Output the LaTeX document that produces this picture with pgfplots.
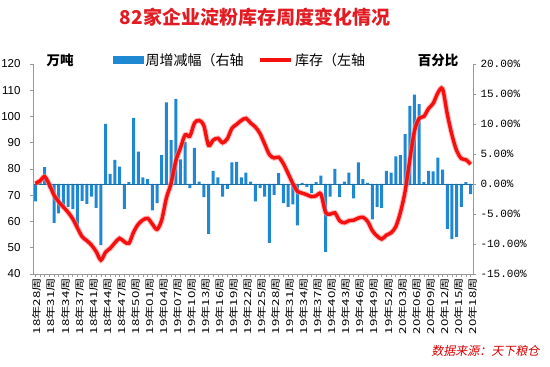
\documentclass[border=0pt]{standalone}
\usepackage{pgfplots}
\usepackage{pgfplotstable}
\usepackage{graphicx}
\usepackage{fontspec}
\pgfplotsset{compat=1.18}
\setmainfont{Liberation Sans}
\newfontfamily\cjk{Noto Sans CJK SC}
\newfontfamily\cjkit[FakeSlant=0.2]{Noto Sans CJK SC}
\newfontfamily\mono{Liberation Mono}
\definecolor{barblue}{RGB}{30,136,210}
\definecolor{linered}{RGB}{245,15,15}
\definecolor{titlered}{RGB}{226,28,34}
\newcommand\xl[1]{\scalebox{1.4}[1]{#1}}

\pgfplotstableread{
x stock chg
0 74.5 -2.9
1 75.5 0.4
2 77.1 2.8
3 74.0 -0.7
4 70.0 -6.5
5 67.5 -4.9
6 65.5 -3.8
7 63.5 -3.8
8 61.0 -4.2
9 57.5 -7.1
10 54.2 -2.8
11 52.7 -3.3
12 51.0 -2.1
13 48.5 -4.0
14 45.3 -10.2
15 48.3 10.0
16 49.8 1.7
17 51.9 4.0
18 53.6 2.9
19 52.3 -4.2
20 51.7 0.3
21 56.0 11.0
22 59.0 5.4
23 60.6 1.1
24 61.2 0.8
25 59.0 -4.4
26 57.0 -3.2
27 60.6 4.8
28 69.0 13.6
29 74.5 7.3
30 83.0 14.2
31 88.0 4.1
32 93.0 7.0
33 92.5 -0.7
34 97.5 6.0
35 98.5 0.4
36 96.5 -2.2
37 89.0 -8.3
38 91.0 2.2
39 91.7 1.1
40 90.0 -2.1
41 91.5 -0.8
42 95.5 3.6
43 97.0 3.7
44 98.5 1.1
45 99.3 1.9
46 97.5 0.4
47 96.0 -2.9
48 93.5 -0.7
49 89.5 -2.1
50 85.5 -9.8
51 84.2 -1.8
52 84.5 1.8
53 82.0 -3.2
54 78.3 -3.8
55 74.5 -3.4
56 71.5 -6.9
57 70.8 0.2
58 70.2 -0.5
59 69.5 -1.5
60 69.8 0.3
61 70.5 1.4
62 63.5 -11.3
63 62.8 -2.1
64 63.3 2.5
65 60.3 -2.2
66 59.5 0.4
67 60.3 1.9
68 60.5 -2.4
69 61.3 3.6
70 61.6 0.8
71 60.0 0.2
72 56.5 -5.9
73 54.5 -3.8
74 53.3 -4.0
75 54.8 2.2
76 55.7 1.9
77 58.0 4.6
78 63.5 4.8
79 71.5 8.3
80 83.5 13.0
81 94.5 14.9
82 99.3 13.3
83 100.0 0.3
84 103.0 2.2
85 105.0 2.1
86 109.0 4.4
87 110.5 2.4
88 101.0 -7.5
89 93.0 -9.2
90 87.0 -8.8
91 84.0 -3.8
92 83.5 0.3
93 81.8 -1.7
}\datatable

\begin{document}
\begin{tikzpicture}
\useasboundingbox (0,0) rectangle (550pt,367pt);
% bars, right axis
\begin{axis}[
  at={(33pt,93pt)}, anchor=south west,
  scale only axis, width=440pt, height=210pt,
  xmin=-0.5, xmax=93.5, ymin=-15, ymax=20,
  axis x line=none, axis y line*=right,
  ytick={-15,-10,...,20},
  axis line style={draw=gray!80, line width=0.6pt},
  tick style={draw=gray!80, line width=0.6pt},
  tick align=outside, major tick length=3pt,
  /pgf/number format/assume math mode=true,
  yticklabel={\pgfmathprintnumber[fixed,fixed zerofill,precision=2]{\tick}\%},
  yticklabel style={font=\mono\fontsize{11}{11}\selectfont, xshift=1pt},
]
\addplot[ybar, bar width=3pt, fill=barblue, draw=none] table[x=x, y=chg] {\datatable};
\addplot[barblue!80!black, line width=0.8pt] coordinates {(-0.5,0) (93.5,0)};
\end{axis}
% line, left axis
\begin{axis}[
  at={(33pt,93pt)}, anchor=south west,
  scale only axis, width=440pt, height=210pt,
  xmin=-0.5, xmax=93.5, ymin=40, ymax=120,
  axis x line*=bottom, axis y line*=left,
  ytick={40,50,...,120},
  xtick={0,3,...,93}, minor xtick={0,...,93},
  xticklabels={\xl{18年28周},\xl{18年31周},\xl{18年34周},\xl{18年37周},\xl{18年41周},\xl{18年44周},\xl{18年47周},\xl{18年50周},\xl{19年01周},\xl{19年04周},\xl{19年07周},\xl{19年10周},\xl{19年13周},\xl{19年16周},\xl{19年19周},\xl{19年22周},\xl{19年25周},\xl{19年28周},\xl{19年31周},\xl{19年34周},\xl{19年37周},\xl{19年40周},\xl{19年43周},\xl{19年46周},\xl{19年49周},\xl{19年52周},\xl{20年03周},\xl{20年06周},\xl{20年09周},\xl{20年12周},\xl{20年15周},\xl{20年18周}},
  xticklabel style={rotate=90, anchor=east, font=\cjk\fontsize{9.5}{9.5}\selectfont, inner sep=1pt, yshift=-2pt},
  axis line style={draw=gray!80, line width=0.6pt},
  tick style={draw=gray!80, line width=0.6pt},
  tick align=outside, major tick length=3pt, minor tick length=3pt,
  /pgf/number format/assume math mode=true,
  yticklabel style={font=\fontsize{11.5}{11.5}\selectfont, xshift=-6pt},
  legend style={at={(0.182,1.019)}, anchor=west, legend columns=2, draw=none, fill=none,
    font=\cjk\fontsize{14}{14}\selectfont, inner sep=0pt,
    /tikz/every even column/.append style={column sep=13pt}},
]
\addlegendimage{legend image code/.code={\fill[barblue] (0pt,-3.5pt) rectangle (30pt,4pt);}}
\addlegendentry{周增减幅（右轴}
\addplot[red!45, opacity=0.6, line width=5.5pt, smooth, forget plot] table[x=x, y=stock] {\datatable};
\addplot[linered, line width=3.4pt, smooth, legend image code/.code={\draw[linered, line width=3.4pt] (0pt,0pt) -- (31pt,0pt);}] table[x=x, y=stock] {\datatable};
\addlegendentry{库存（左轴}
\end{axis}
\node at (255pt,349.5pt) {\cjk\bfseries\fontsize{19}{19}\selectfont\color{titlered}82家企业淀粉库存周度变化情况};
\node at (60pt,307pt) {\cjk\bfseries\fontsize{13.5}{13.5}\selectfont 万吨};
\node at (438pt,307pt) {\cjk\bfseries\fontsize{13.5}{13.5}\selectfont 百分比};
\node[anchor=east] at (543pt,16pt) {\cjkit\fontsize{12}{12}\selectfont\color{red!85!black}数据来源：天下粮仓};
\end{tikzpicture}
\end{document}
